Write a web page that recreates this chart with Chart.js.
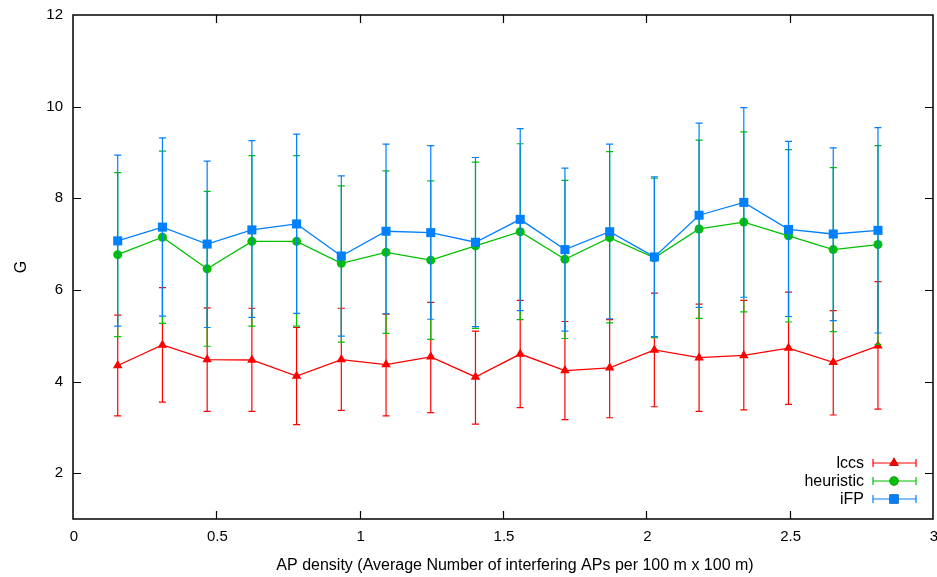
<!DOCTYPE html>
<html>
<head>
<meta charset="utf-8">
<script src="https://cdn.jsdelivr.net/npm/chart.js@4/dist/chart.umd.min.js"></script>
<style>
  html, body { margin: 0; padding: 0; background: #fff; }
  #wrap { width: 937px; height: 577px; }
</style>
</head>
<body>
<div id="wrap"><canvas id="myChart" width="937" height="577"></canvas></div>
<script>
// AP density values (x)
var density = [0.156, 0.312, 0.468, 0.624, 0.78, 0.936, 1.092, 1.248, 1.404,
               1.56, 1.716, 1.872, 2.028, 2.184, 2.34, 2.496, 2.652, 2.808];

// lccs: mean, lower, upper
var lccsMean  = [4.35, 4.80, 4.48, 4.47, 4.12, 4.48, 4.37, 4.54, 4.10, 4.60, 4.24, 4.30, 4.69, 4.52, 4.57, 4.73, 4.42, 4.78];
var lccsLow   = [3.25, 3.55, 3.35, 3.35, 3.06, 3.37, 3.25, 3.32, 3.07, 3.43, 3.17, 3.21, 3.45, 3.35, 3.38, 3.50, 3.27, 3.40];
var lccsHigh  = [5.45, 6.05, 5.61, 5.60, 5.18, 5.60, 5.47, 5.73, 5.10, 5.77, 5.31, 5.35, 5.93, 5.69, 5.77, 5.95, 5.55, 6.18];

// heuristic
var heurMean  = [6.77, 7.15, 6.46, 7.06, 7.06, 6.58, 6.82, 6.65, 6.96, 7.27, 6.67, 7.14, 6.70, 7.33, 7.48, 7.18, 6.88, 6.99];
var heurLow   = [4.98, 5.27, 4.77, 5.21, 5.21, 4.86, 5.05, 4.92, 5.16, 5.35, 4.94, 5.28, 4.96, 5.38, 5.52, 5.30, 5.09, 4.81];
var heurHigh  = [8.56, 9.03, 8.15, 8.93, 8.93, 8.27, 8.60, 8.38, 8.79, 9.19, 8.39, 9.02, 8.44, 9.27, 9.45, 9.06, 8.67, 9.15];

// iFP
var ifpMean   = [7.07, 7.37, 7.00, 7.31, 7.44, 6.74, 7.28, 7.25, 7.04, 7.54, 6.88, 7.27, 6.72, 7.63, 7.91, 7.32, 7.22, 7.30];
var ifpLow    = [5.21, 5.43, 5.18, 5.40, 5.49, 4.99, 5.48, 5.36, 5.20, 5.55, 5.10, 5.37, 4.98, 5.62, 5.84, 5.42, 5.33, 5.06];
var ifpHigh   = [8.94, 9.32, 8.81, 9.26, 9.40, 8.49, 9.18, 9.15, 8.89, 9.52, 8.66, 9.18, 8.47, 9.64, 9.98, 9.24, 9.10, 9.54];

var xTicks = [0, 0.5, 1, 1.5, 2, 2.5, 3];
var yTicks = [2, 4, 6, 8, 10, 12];

var xTitle = "AP density (Average Number of interfering APs per 100 m x 100 m)";
var seriesNames = ["lccs", "heuristic", "iFP"];
var seriesColors = ["rgb(255,0,0)", "rgb(0,192,0)", "rgb(0,128,255)"];
var seriesMarkers = ["triangle", "circle", "rect"];
var markerRadius = [5.5, 4.5, 6.4];

function toPoints(xs, ys, lo, hi) {
    var out = [];
    for (var i = 0; i < xs.length; i++) {
        out.push({ x: xs[i], y: ys[i], lo: lo[i], hi: hi[i] });
    }
    return out;
}

var FONT = "'Liberation Sans', Arial, Helvetica, sans-serif";

// draw error bars under each series line, plus frame, inward ticks and legend
var errorBarPlugin = {
    id: "errorBars",
    beforeDatasetDraw: function (chart, args) {
        var ctx = chart.ctx;
        var ds = chart.data.datasets[args.index];
        var xs = chart.scales.x, ys = chart.scales.y;
        ctx.save();
        ctx.strokeStyle = ds.borderColor;
        ctx.lineWidth = 1.2;
        ds.data.forEach(function (p) {
            var px = xs.getPixelForValue(p.x);
            var pl = ys.getPixelForValue(p.lo);
            var ph = ys.getPixelForValue(p.hi);
            ctx.beginPath();
            ctx.moveTo(px, pl); ctx.lineTo(px, ph);
            ctx.moveTo(px - 3.5, pl); ctx.lineTo(px + 3.5, pl);
            ctx.moveTo(px - 3.5, ph); ctx.lineTo(px + 3.5, ph);
            ctx.stroke();
        });
        ctx.restore();
    },
    afterDraw: function (chart) {
        var ctx = chart.ctx;
        var a = chart.chartArea;
        var xs = chart.scales.x, ys = chart.scales.y;
        ctx.save();
        ctx.strokeStyle = "#000";
        ctx.lineWidth = 1.5;
        ctx.strokeRect(a.left, a.top, a.right - a.left, a.bottom - a.top);
        ctx.lineWidth = 1.2;
        ctx.beginPath();
        xTicks.forEach(function (v) {
            var px = Math.round(xs.getPixelForValue(v)) + 0.5;
            if (px <= a.left + 1 || px >= a.right - 1) return;
            ctx.moveTo(px, a.bottom); ctx.lineTo(px, a.bottom - 8);
            ctx.moveTo(px, a.top); ctx.lineTo(px, a.top + 8);
        });
        yTicks.forEach(function (v) {
            var py = Math.round(ys.getPixelForValue(v)) + 0.5;
            if (py <= a.top + 1 || py >= a.bottom - 1) return;
            ctx.moveTo(a.left, py); ctx.lineTo(a.left + 8, py);
            ctx.moveTo(a.right, py); ctx.lineTo(a.right - 8, py);
        });
        ctx.stroke();

        // x tick labels, placed with the x scale
        ctx.fillStyle = "#000";
        ctx.font = "15px " + FONT;
        ctx.textAlign = "center";
        ctx.textBaseline = "middle";
        xTicks.forEach(function (v) {
            ctx.fillText(String(v), xs.getPixelForValue(v) + 1, a.bottom + 18);
        });

        // x axis title (gnuplot puts it slightly right of the plot centre)
        ctx.font = "16px " + FONT;
        ctx.fillText(xTitle, 515, 566);

        // legend, bottom right inside the plot
        var rowY = [463, 481, 499];
        ctx.textAlign = "right";
        for (var i = 0; i < seriesNames.length; i++) {
            var y = rowY[i];
            ctx.fillStyle = "#000";
            ctx.fillText(seriesNames[i], 864, y + 1);
            ctx.strokeStyle = seriesColors[i];
            ctx.lineWidth = 1.2;
            ctx.beginPath();
            ctx.moveTo(873, y); ctx.lineTo(916, y);
            ctx.moveTo(873, y - 4); ctx.lineTo(873, y + 4);
            ctx.moveTo(916, y - 4); ctx.lineTo(916, y + 4);
            ctx.stroke();
            Chart.helpers.drawPoint(ctx, {
                pointStyle: seriesMarkers[i],
                radius: markerRadius[i],
                rotation: 0,
                borderWidth: 0
            }, 894, y);
            ctx.fillStyle = seriesColors[i];
            ctx.fill();
        }
        ctx.restore();
    }
};

var datasets = [
    { label: "lccs", data: toPoints(density, lccsMean, lccsLow, lccsHigh), order: 3 },
    { label: "heuristic", data: toPoints(density, heurMean, heurLow, heurHigh), order: 2 },
    { label: "iFP", data: toPoints(density, ifpMean, ifpLow, ifpHigh), order: 1 }
].map(function (d, i) {
    d.showLine = true;
    d.borderColor = seriesColors[i];
    d.backgroundColor = seriesColors[i];
    d.borderWidth = 1.3;
    d.pointStyle = seriesMarkers[i];
    d.pointRadius = markerRadius[i];
    d.pointBorderWidth = 0;
    d.pointHoverRadius = markerRadius[i];
    return d;
});

var config = {
    type: "scatter",
    data: { datasets: datasets },
    plugins: [errorBarPlugin],
    options: {
        responsive: false,
        animation: false,
        events: [],
        layout: { autoPadding: false, padding: { top: 15, right: 4, left: 0, bottom: 0 } },
        plugins: { legend: { display: false }, tooltip: { enabled: false } },
        scales: {
            x: {
                type: "linear",
                min: 0, max: 3,
                afterBuildTicks: function (s) { s.ticks = xTicks.map(function (v) { return { value: v }; }); },
                afterFit: function (s) { s.height = 58; s.paddingLeft = 0; s.paddingRight = 0; },
                grid: { display: false, drawTicks: false },
                border: { display: false },
                ticks: { display: false },
                title: { display: false }
            },
            y: {
                type: "linear",
                min: 1, max: 12,
                afterBuildTicks: function (s) { s.ticks = yTicks.map(function (v) { return { value: v }; }); },
                afterFit: function (s) { s.width = 73; s.paddingTop = 0; s.paddingBottom = 0; },
                grid: { display: false, drawTicks: false },
                border: { display: false },
                ticks: { color: "#000", padding: 10, font: { family: FONT, size: 15 } },
                title: {
                    display: true,
                    text: "G",
                    color: "#000",
                    font: { family: FONT, size: 16 },
                    padding: { top: 12, bottom: 0 }
                }
            }
        }
    }
};

var ctx = document.getElementById("myChart").getContext("2d");
var myChart = new Chart(ctx, config);
</script>
</body>
</html>
